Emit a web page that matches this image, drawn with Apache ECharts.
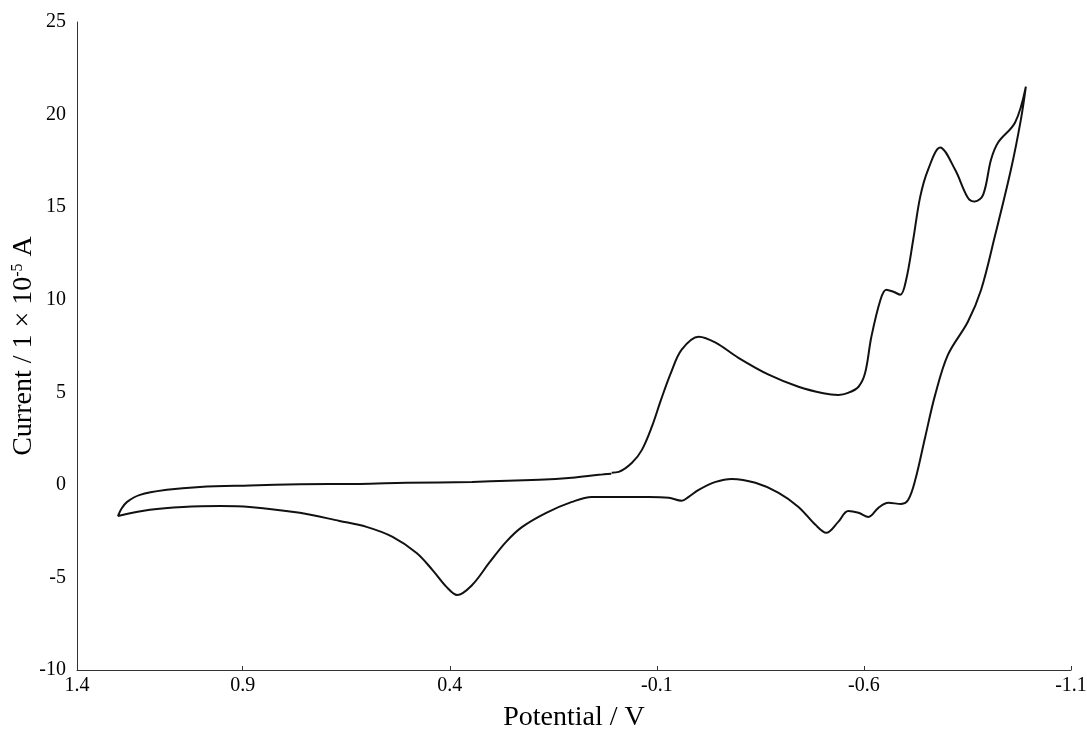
<!DOCTYPE html>
<html>
<head>
<meta charset="utf-8">
<script src="https://cdn.jsdelivr.net/npm/echarts@6/dist/echarts.min.js"></script>
<style>
  html, body { margin: 0; padding: 0; background: #fff; }
  #cv { width: 1087px; height: 731px; }
</style>
</head>
<body>
<div id="cv"></div>
<script>
// potential (V) and current (1e-5 A), in scan order
const potential = [
  0.009, -0.008, -0.040, -0.064, -0.088, -0.110, -0.134, -0.160, -0.201, -0.242,
  -0.297, -0.370, -0.442, -0.502, -0.538, -0.562, -0.587, -0.603, -0.618, -0.640,
  -0.654, -0.671, -0.688, -0.702, -0.719, -0.736, -0.755, -0.784, -0.820, -0.851,
  -0.868, -0.888, -0.907, -0.924, -0.965, -0.991,
  -0.979, -0.955, -0.916, -0.883, -0.851, -0.803, -0.772, -0.748, -0.724, -0.707,
  -0.690, -0.659, -0.635, -0.611, -0.587, -0.562, -0.538, -0.509, -0.483, -0.442,
  -0.394, -0.338, -0.281, -0.242, -0.201, -0.177, -0.160, -0.129, -0.081, -0.001,
  0.057, 0.105, 0.167, 0.225, 0.264, 0.305, 0.346, 0.382, 0.408, 0.442,
  0.480, 0.538, 0.601, 0.666, 0.762, 0.883, 0.955, 1.044, 1.124, 1.201,
  1.193, 1.179, 1.148, 1.083, 1.003, 0.883, 0.762, 0.618, 0.505, 0.346,
  0.184, 0.105, 0.040, 0.010
];
const current = [
  0.66, 0.70, 1.19, 1.89, 3.14, 4.59, 6.05, 7.30, 8.00, 7.68,
  6.86, 5.95, 5.30, 4.95, 4.86, 4.97, 5.30, 6.05, 8.00, 10.00,
  10.54, 10.43, 10.27, 11.08, 13.24, 15.57, 17.03, 18.22, 17.03, 15.51,
  15.30, 15.68, 17.57, 18.49, 19.57, 21.51,
  19.73, 17.03, 13.41, 10.54, 8.81, 7.03, 4.86, 2.59, 0.27, -0.81,
  -1.03, -0.97, -1.24, -1.73, -1.51, -1.41, -2.00, -2.59, -2.16, -1.19,
  -0.43, 0.11, 0.32, 0.16, -0.27, -0.65, -0.86, -0.70, -0.65, -0.65,
  -0.65, -0.92, -1.51, -2.27, -3.08, -4.22, -5.41, -5.95, -5.51, -4.59,
  -3.68, -2.81, -2.27, -1.95, -1.51, -1.19, -1.14, -1.19, -1.35, -1.68,
  -1.30, -0.92, -0.54, -0.27, -0.11, -0.03, 0.03, 0.05, 0.11, 0.16,
  0.27, 0.38, 0.54, 0.60
];
const xTickLabels = ['-1.1', '-0.6', '-0.1', '0.4', '0.9', '1.4'];
const yTicks = [-10, -5, 0, 5, 10, 15, 20, 25];

const chart = echarts.init(document.getElementById('cv'));
const font = '"Liberation Serif", "DejaVu Serif", serif';
const option = {
  backgroundColor: '#fff',
  animation: false,
  grid: { left: 77, right: 16, top: 22, bottom: 61, containLabel: false, outerBoundsMode: 'none' },
  xAxis: {
    type: 'value',
    min: -1.1,
    max: 1.3,
    interval: 0.5,
    inverse: true,
    name: 'Potential / V',
    nameLocation: 'middle',
    nameGap: 34,
    nameMoveOverlap: false,
    nameTextStyle: { fontFamily: font, fontSize: 28, color: '#000' },
    axisLine: { onZero: false, lineStyle: { color: '#333', width: 1 } },
    axisTick: { show: true, inside: true, length: 4, lineStyle: { color: '#333' } },
    axisLabel: {
      fontFamily: font, fontSize: 20, color: '#000', margin: 6,
      showMinLabel: true, showMaxLabel: true,
      formatter: (v, i) => xTickLabels[i] !== undefined ? xTickLabels[i] : ''
    },
    splitLine: { show: false }
  },
  yAxis: {
    type: 'value',
    min: yTicks[0],
    max: yTicks[yTicks.length - 1],
    interval: 5,
    name: '{n|Current / 1 × 10}{s|-5}{n| A}',
    nameLocation: 'middle',
    nameRotate: 90,
    nameGap: 39,
    nameMoveOverlap: false,
    nameTextStyle: {
      fontFamily: font, fontSize: 28, color: '#000',
      rich: {
        n: { fontFamily: font, fontSize: 28, lineHeight: 28, color: '#000' },
        s: { fontFamily: font, fontSize: 16, lineHeight: 28, color: '#000', verticalAlign: 'top', padding: [0, 0, 10, 0] }
      }
    },
    axisLine: { show: true, onZero: false, lineStyle: { color: '#333', width: 1 } },
    axisTick: { show: false },
    axisLabel: { fontFamily: font, fontSize: 20, color: '#000', margin: 11 },
    splitLine: { show: false }
  },
  series: [{
    type: 'line',
    data: potential.map((p, i) => [p, current[i]]),
    showSymbol: false,
    smooth: 0.35,
    lineStyle: { color: '#111', width: 2 }
  }]
};
chart.setOption(option);
</script>
</body>
</html>
